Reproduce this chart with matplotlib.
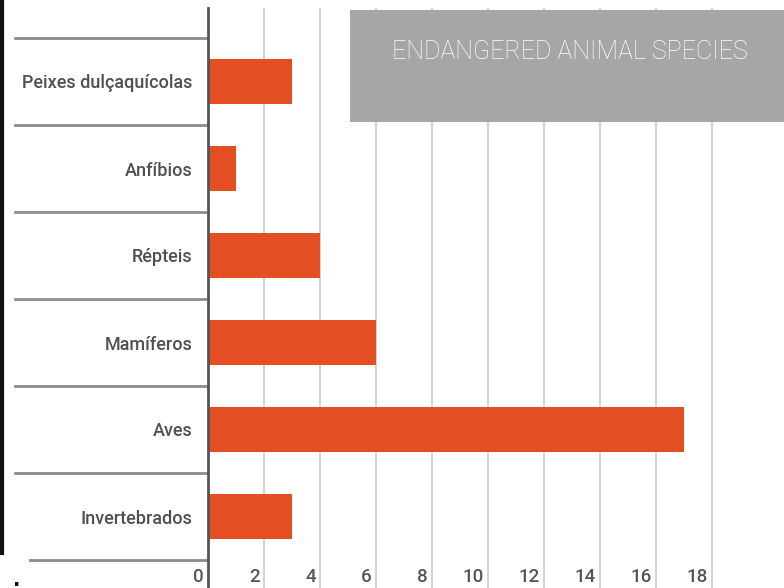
import matplotlib
matplotlib.use("Agg")
import matplotlib.pyplot as plt
import matplotlib.transforms as mtransforms
from matplotlib.patches import Rectangle
from matplotlib.lines import Line2D

categories = ["Invertebrados", "Aves", "Mamíferos", "Répteis", "Anfíbios", "Peixes dulçaquícolas"]
values = [3, 17, 6, 4, 1, 3]
xticks = [0, 2, 4, 6, 8, 10, 12, 14, 16, 18]
title = "Endangered animal species"

W, H = 784, 588
fig = plt.figure(figsize=(W / 100, H / 100), dpi=100)
fig.patch.set_facecolor("white")

ax = fig.add_axes([208 / W, 0, 1 - 208 / W, 1 - 8 / H])
ypos = list(range(len(categories)))
ax.barh(ypos, values, height=0.52, color="#e34e22", zorder=3)
ax.set_xlim(0, (W - 208) / 28)
ax.set_ylim(-0.5 - 28 / 87, 5.5 + 30 / 87)

for s in ["top", "right", "bottom"]:
    ax.spines[s].set_visible(False)
ax.spines["left"].set_color("#555555")
ax.spines["left"].set_linewidth(2)
ax.spines["left"].set_zorder(4)

ax.set_xticks([])
for t in xticks[1:]:
    ax.axvline(t, color="#d4d4d4", lw=1.5, zorder=1)

ax.set_yticks(ypos)
ax.set_yticklabels(categories, fontsize=13, color="#505050", family=["Roboto", "DejaVu Sans"],
                   fontweight="medium")
ax.tick_params(axis="y", length=0, pad=11)

# x tick labels drawn inside the axes at the bottom
off = mtransforms.offset_copy(ax.transData, fig=fig, x=-4, y=0, units="dots")
blend = mtransforms.blended_transform_factory(off, fig.transFigure)
for t in xticks:
    ax.text(t, 1 - 577 / H, str(t), transform=blend, ha="right", va="center",
            fontsize=13.5, color="#555555", family=["Roboto", "DejaVu Sans"], fontweight="medium")

# category separators
sep = mtransforms.blended_transform_factory(fig.transFigure, ax.transData)
for i in range(len(categories) + 1):
    y = i - 0.5
    x0 = 30 / W if i == 0 else 15 / W
    ax.add_line(Line2D([x0, 208 / W], [y, y], transform=sep, color="#8c8c8c", lw=2, clip_on=False))

# left edge dark line
fig.add_artist(Line2D([1.5 / W, 1.5 / W], [1 - 553 / H, 1], color="#111111", lw=3))
fig.text(17 / W, 1 - 580 / H, ".", fontsize=14, color="#111111", ha="center", va="center", fontweight="bold")

# title box
fig.add_artist(Rectangle((350 / W, 1 - 122 / H), (W - 350) / W, 112 / H,
                         transform=fig.transFigure, facecolor="#a6a6a6", edgecolor="none", zorder=5))
fig.text(570 / W, 1 - 52 / H, title.upper(), ha="center", va="center", color="white",
         fontsize=18, family=["Roboto", "DejaVu Sans"], fontweight="light", zorder=6)

fig.savefig("out.png", dpi=100)
